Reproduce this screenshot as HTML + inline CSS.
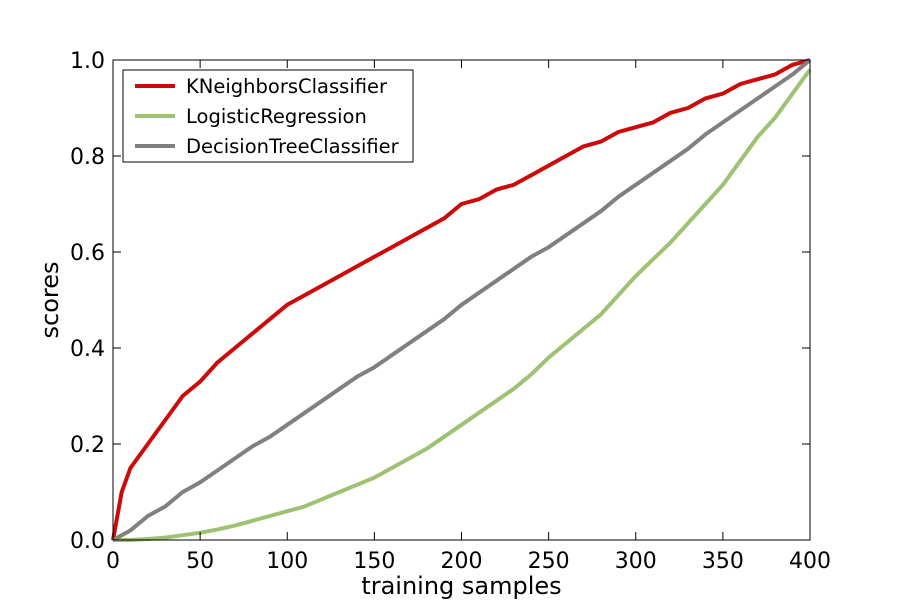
<!DOCTYPE html>
<html><head><meta charset="utf-8"><style>
body{margin:0;background:#fff;}
svg{display:block;font-family:"DejaVu Sans","Liberation Sans",sans-serif;}
</style></head><body>
<svg id="chart" width="900" height="600"></svg>
<script>
const xs=[0,5,10,20,30,40,50,60,70,80,90,100,110,120,130,140,150,160,170,180,190,200,210,220,230,240,250,260,270,280,290,300,310,320,330,340,350,360,370,380,390,400];
const knn=[0,0.1,0.15,0.2,0.25,0.3,0.33,0.37,0.4,0.43,0.46,0.49,0.51,0.53,0.55,0.57,0.59,0.61,0.63,0.65,0.67,0.7,0.71,0.73,0.74,0.76,0.78,0.8,0.82,0.83,0.85,0.86,0.87,0.89,0.9,0.92,0.93,0.95,0.96,0.97,0.99,1.0];
const logreg=[0,0,0,0.002,0.005,0.01,0.015,0.022,0.03,0.04,0.05,0.06,0.07,0.085,0.1,0.115,0.13,0.15,0.17,0.19,0.215,0.24,0.265,0.29,0.315,0.345,0.38,0.41,0.44,0.47,0.51,0.55,0.585,0.62,0.66,0.7,0.74,0.79,0.84,0.88,0.93,0.98];
const tree=[0,0.01,0.02,0.05,0.07,0.1,0.12,0.145,0.17,0.195,0.215,0.24,0.265,0.29,0.315,0.34,0.36,0.385,0.41,0.435,0.46,0.49,0.515,0.54,0.565,0.59,0.61,0.635,0.66,0.685,0.715,0.74,0.765,0.79,0.815,0.845,0.87,0.895,0.92,0.945,0.97,1.0];
const xTicks=[0,50,100,150,200,250,300,350,400];
const yTicks=[0,0.2,0.4,0.6,0.8,1.0];
const seriesNames=["KNeighborsClassifier","LogisticRegression","DecisionTreeClassifier"];
const seriesColors=["#cc0a0a","#9dc274","#808080"];
const L=113,R=810,T=60,B=540;
const sx=v=>L+(v-0)/400*(R-L);
const sy=v=>B-(v-0)/1*(B-T);
const svg=document.getElementById('chart');
const NS='http://www.w3.org/2000/svg';
function mk(t,a,p){const e=document.createElementNS(NS,t);for(const k in a)e.setAttribute(k,a[k]);(p||svg).appendChild(e);return e;}
const series=[knn,logreg,tree];
series.forEach((s,i)=>{
 const p=mk('polyline',{points:s.map((v,j)=>sx(xs[j])+','+sy(v)).join(' '),fill:'none',stroke:seriesColors[i],'stroke-width':4,'stroke-linejoin':'round'});
 
 
});
const frame=mk('rect',{x:L,y:T,width:R-L,height:B-T,fill:'none',stroke:'#000','stroke-width':1});


xTicks.forEach(t=>{
 mk('line',{x1:sx(t),x2:sx(t),y1:B,y2:B-8,stroke:'#000'});
 mk('line',{x1:sx(t),x2:sx(t),y1:T,y2:T+8,stroke:'#000'});
 const tx=mk('text',{x:sx(t),y:B+28,'text-anchor':'middle','font-size':22});
 tx.textContent=t;
 
 
});
yTicks.forEach(t=>{
 mk('line',{x1:L,x2:L+8,y1:sy(t),y2:sy(t),stroke:'#000'});
 mk('line',{x1:R,x2:R-8,y1:sy(t),y2:sy(t),stroke:'#000'});
 const tx=mk('text',{x:L-8,y:sy(t)+8,'text-anchor':'end','font-size':22});
 tx.textContent=t.toFixed(1);
 
 
});
const xl=mk('text',{x:(L+R)/2,y:594,'text-anchor':'middle','font-size':24});
xl.textContent='training samples';


const yl=mk('text',{x:58,y:(T+B)/2,'text-anchor':'middle','font-size':24,transform:'rotate(-90 58 300)'});
yl.textContent='scores';


const lg=mk('g',{});


mk('rect',{x:123,y:70,width:290,height:92,fill:'#fff',stroke:'#000'},lg);
seriesNames.forEach((n,i)=>{
 const y=86+i*30;
 mk('line',{x1:135,x2:175,y1:y,y2:y,stroke:seriesColors[i],'stroke-width':4},lg);
 const t=mk('text',{x:186,y:y+7,'font-size':19.5},lg);
 t.textContent=n;
 
 
});
</script>
</body></html>
